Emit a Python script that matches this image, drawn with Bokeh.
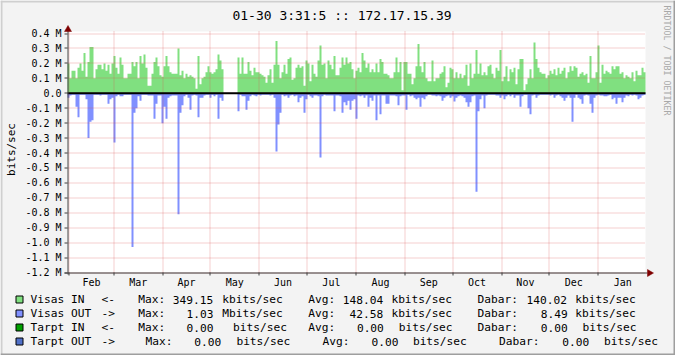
import math
from bokeh.plotting import figure
from bokeh.models import Range1d
from bokeh.core.properties import value
from bokeh.embed import file_html
from bokeh.resources import INLINE

nan = float("nan")

# ---------------- data ----------------
title_text = "01-30 3:31:5 :: 172.17.15.39"
months = ["Feb", "Mar", "Apr", "May", "Jun", "Jul", "Aug", "Sep", "Oct", "Nov", "Dec", "Jan"]
month_len = [28, 31, 30, 31, 30, 31, 31, 30, 31, 30, 31, 31]
y_ticks = [round(-1.2 + 0.1 * i, 1) for i in range(17)]
y_tick_labels = ["0.0" if abs(t) < 1e-9 else "%.1f M" % t for t in y_ticks]

visas_in = [
    0.20, 0.10, 0.15, 0.15, 0.10, 0.17, 0.20, 0.15, 0.27, 0.11,
    0.21, 0.31, 0.31, 0.10, 0.16, 0.19, 0.19, 0.16, 0.20, 0.15,
    0.19, 0.13, 0.20, 0.25, 0.17, 0.13, 0.24, 0.19, 0.10, 0.10,
    0.13, 0.13, 0.21, 0.18, 0.21, 0.10, 0.25, 0.20, 0.26, 0.17,
    0.05, 0.05, 0.13, 0.21, 0.24, 0.18, 0.12, 0.11, 0.18, 0.25,
    0.18, 0.14, 0.13, 0.13, 0.13, 0.30, 0.12, 0.15, 0.10, 0.13,
    0.11, 0.12, 0.11, 0.10, 0.03, 0.25, 0.06, 0.10, 0.11, 0.14,
    0.18, 0.14, 0.13,
    0.14, 0.16, 0.26, 0.22, 0.16, nan, nan, nan, nan, nan,
    nan, nan, 0.24, 0.13, 0.24, 0.13, 0.13, 0.21, 0.15, 0.12,
    0.17, 0.14, 0.14, 0.13, 0.12, 0.11, 0.07, 0.12, 0.16, 0.07,
    0.19, 0.35, 0.19, 0.10, 0.14, 0.19, 0.13, 0.23, 0.24, 0.09,
    0.10, 0.17, 0.19, 0.17, 0.18, 0.05, 0.22, 0.20, 0.08, 0.19,
    0.13, 0.11, 0.22, 0.32, 0.19, 0.20, 0.10, 0.22, 0.19, 0.16,
    0.25, 0.12, 0.12, 0.17, 0.24, 0.19, 0.24, 0.20, 0.21, 0.16,
    0.10, 0.15,
    0.17, 0.14, 0.27, 0.22, 0.17, 0.20, 0.14, 0.16, 0.14, 0.20,
    0.14, 0.23, 0.21, 0.13, 0.13, 0.12, 0.10, 0.10, 0.14, 0.24,
    0.14, 0.21, 0.02, 0.21, 0.21, 0.13, 0.13, 0.06, 0.10, 0.18,
    0.33, 0.18, 0.14, 0.21, 0.10, 0.08, 0.08, 0.22, 0.08, 0.10,
    0.10, 0.13, 0.14, 0.18, 0.04, 0.07, 0.17, 0.16, 0.10, 0.14,
    0.10, 0.13, 0.10, 0.12, 0.19, 0.05, 0.20, 0.10, 0.13, 0.29,
    0.13, 0.20, 0.12, 0.14, 0.12, 0.18, 0.19, 0.13, 0.10, 0.17,
    0.15, 0.29, 0.08,
    0.11, 0.18, 0.08, 0.16, 0.14, 0.17, 0.06, 0.16, 0.23, 0.23,
    0.02, 0.06, 0.10, 0.16, 0.10, 0.34, 0.23, 0.17, 0.14, 0.13,
    0.13, 0.10, 0.12, 0.15, 0.13, 0.16, 0.12, 0.17, 0.13, 0.15,
    0.17, 0.10, 0.14, 0.18, 0.15, 0.18, 0.17, 0.11, 0.13, 0.14,
    0.12, 0.13, 0.07, 0.25, 0.10, 0.10, 0.14, 0.32, 0.07, 0.19,
    0.13, 0.15, 0.14, 0.13, 0.18, 0.16, 0.18, 0.18, 0.13, 0.14,
    0.10, 0.12, 0.11, 0.10, 0.14, 0.08, 0.15, 0.12, 0.12, 0.17,
    0.14,
]

visas_out = [
    -0.03, -0.015, -0.01, -0.01, -0.09, -0.16, -0.01, -0.01, -0.01, -0.04,
    -0.30, -0.19, -0.18, -0.01, -0.01, -0.01, -0.015, -0.01, -0.01, -0.01,
    -0.07, -0.04, -0.03, -0.33, -0.02, -0.01, -0.02, -0.02, -0.01, -0.01,
    -0.01, -0.01, -1.03, -0.13, -0.10, -0.02, -0.05, -0.01, -0.01, -0.01,
    -0.015, -0.015, -0.015, -0.17, -0.07, -0.015, -0.015, -0.20, -0.09, -0.17,
    -0.03, -0.02, -0.015, -0.015, -0.015, -0.81, -0.13, -0.08, -0.02, -0.01,
    -0.03, -0.11, -0.015, -0.01, -0.015, -0.16, -0.03, -0.03, -0.015, -0.01,
    -0.01, -0.03, -0.01,
    -0.02, -0.01, -0.17, -0.03, -0.05, nan, nan, nan, nan, nan,
    nan, nan, -0.12, -0.01, -0.02, -0.02, -0.11, -0.05, -0.02, -0.01,
    -0.015, -0.02, -0.01, -0.015, -0.01, -0.01, -0.01, -0.01, -0.015, -0.01,
    -0.03, -0.39, -0.21, -0.13, -0.01, -0.02, -0.015, -0.03, -0.015, -0.01,
    -0.02, -0.015, -0.06, -0.03, -0.02, -0.13, -0.04, -0.01, -0.02, -0.03,
    -0.015, -0.015, -0.02, -0.43, -0.02, -0.01, -0.015, -0.015, -0.015, -0.015,
    -0.12, -0.015, -0.015, -0.02, -0.13, -0.06, -0.08, -0.05, -0.11, -0.05,
    -0.04, -0.17,
    -0.015, -0.02, -0.015, -0.03, -0.015, -0.09, -0.03, -0.05, -0.015, -0.18,
    -0.015, -0.14, -0.015, -0.015, -0.07, -0.07, -0.015, -0.015, -0.015, -0.02,
    -0.08, -0.02, -0.015, -0.015, -0.11, -0.01, -0.02, -0.015, -0.03, -0.04,
    -0.03, -0.09, -0.03, -0.04, -0.02, -0.01, -0.01, -0.015, -0.015, -0.02,
    -0.015, -0.02, -0.05, -0.03, -0.02, -0.015, -0.03, -0.02, -0.055, -0.03,
    -0.02, -0.015, -0.02, -0.03, -0.06, -0.09, -0.06, -0.02, -0.015, -0.66,
    -0.12, -0.04, -0.015, -0.10, -0.015, -0.01, -0.01, -0.01, -0.01, -0.015,
    -0.015, -0.03, -0.015,
    -0.04, -0.02, -0.01, -0.02, -0.01, -0.03, -0.015, -0.015, -0.09, -0.02,
    -0.01, -0.01, -0.10, -0.14, -0.015, -0.01, -0.03, -0.015, -0.01, -0.01,
    -0.01, -0.01, -0.01, -0.015, -0.01, -0.03, -0.015, -0.01, -0.02, -0.03,
    -0.05, -0.03, -0.015, -0.03, -0.19, -0.03, -0.01, -0.03, -0.04, -0.07,
    -0.015, -0.01, -0.015, -0.07, -0.13, -0.03, -0.015, -0.01, -0.015, -0.015,
    -0.02, -0.02, -0.015, -0.01, -0.04, -0.03, -0.07, -0.03, -0.03, -0.06,
    -0.03, -0.015, -0.02, -0.01, -0.015, -0.01, -0.015, -0.04, -0.03, -0.015,
    -0.01,
]

legend_names = ["Visas IN", "Visas OUT", "Tarpt IN", "Tarpt OUT"]
legend_dirs = ["<-", "->", "<-", "->"]
max_vals = ["349.15", "1.03", "0.00", "0.00"]
max_units = ["kbits/sec", "Mbits/sec", "bits/sec", "bits/sec"]
avg_vals = ["148.04", "42.58", "0.00", "0.00"]
avg_units = ["kbits/sec", "kbits/sec", "bits/sec", "bits/sec"]
cur_vals = ["140.02", "8.49", "0.00", "0.00"]
cur_units = ["kbits/sec", "kbits/sec", "bits/sec", "bits/sec"]

# ---------------- layout / style ----------------
W, H = 675, 355
PL, PR, PT, PB = 67, 645, 31, 272          # plot area in canvas pixels
DAYS = 365.0
PPD = (PR - PL) / DAYS                     # pixels per day
PPM = (PB - 33.0) / 1.6                    # pixels per Mbit/s
MONO = "DejaVu Sans Mono"
C_IN, C_OUT = "#80e080", "#8090ff"
legend_colors = [C_IN, C_OUT, "#00a000", "#5070c8"]
GRID = "#de5050"


def X(px):
    return (px - PL) / PPD


def Y(py):
    return (PB - py) / PPM - 1.2


def to_px_y(v):
    return PB - (v + 1.2) * PPM


def to_px_x(d):
    return PL + d * PPD


p = figure(width=W, height=H, title=None, output_backend="svg", toolbar_location=None,
           x_range=Range1d(X(0), X(W)), y_range=Range1d(Y(H), Y(0)),
           x_axis_location=None, y_axis_location=None,
           min_border=0, min_border_left=0, min_border_right=0,
           min_border_top=0, min_border_bottom=0)
p.grid.visible = False
p.outline_line_color = None
p.background_fill_color = "#f3f3f3"
p.border_fill_color = "#f3f3f3"

# outer shaded border
p.quad(left=[X(0), X(0), X(0), X(W - 2)], right=[X(W), X(2), X(W), X(W)],
       top=[Y(0), Y(0), Y(H - 2), Y(0)], bottom=[Y(2), Y(H), Y(H), Y(H)],
       fill_color=["#cfcfcf", "#cfcfcf", "#9e9e9e", "#9e9e9e"], line_color=None)

# canvas (white plot area)
p.quad(left=[0], right=[DAYS], top=[Y(PT)], bottom=[-1.2], fill_color="#ffffff",
       line_color=None)

# data
n = len(visas_in)
bw = DAYS / n


def draw_steps(vals, color):
    run = []
    for i, v in enumerate(vals + [nan]):
        if v == v:
            run.append(i)
        elif run:
            xe = [k * bw for k in run] + [(run[-1] + 1) * bw]
            ye = [vals[k] for k in run] + [vals[run[-1]]]
            p.varea_step(x=xe, y1=[0] * len(xe), y2=ye, step_mode="after",
                         fill_color=color)
            run = []


draw_steps(visas_in, C_IN)
draw_steps(visas_out, C_OUT)

# month geometry
off = 1.15
month_start = [off + sum(month_len[:i]) for i in range(len(months))]
month_mid = [month_start[i] + month_len[i] / 2.0 for i in range(len(months))]

# grid (snapped to pixel centres)
gy = [Y(math.floor(to_px_y(t)) + 0.5) for t in y_ticks]
p.segment(x0=[0] * len(gy), x1=[DAYS] * len(gy), y0=gy, y1=gy,
          line_color=GRID, line_alpha=0.55, line_width=1, line_dash="1 1")
gx = [X(math.floor(to_px_x(d)) + 0.5) for d in month_start]
p.segment(x0=gx, x1=gx, y0=[-1.2] * len(gx), y1=[Y(PT)] * len(gx),
          line_color=GRID, line_alpha=0.55, line_width=1, line_dash="1 1")

# zero line
p.segment(x0=[0], x1=[DAYS], y0=[0], y1=[0], line_color="#000000", line_width=2)

# axes
AX = "#404040"
p.segment(x0=[X(PL + 0.5)], x1=[X(PL + 0.5)], y0=[Y(PB + 2)], y1=[Y(30)],
          line_color=AX, line_width=1)
p.segment(x0=[X(PL - 3)], x1=[X(647)], y0=[Y(PB + 0.5)], y1=[Y(PB + 0.5)],
          line_color=AX, line_width=1)
# y ticks
p.segment(x0=[X(PL - 3)] * len(gy), x1=[X(PL)] * len(gy), y0=gy, y1=gy,
          line_color=AX, line_width=1)
# x ticks
p.segment(x0=gx, x1=gx, y0=[Y(PB)] * len(gx), y1=[Y(PB + 3)] * len(gx),
          line_color=AX, line_width=1)
# arrow heads
ARW = "#7f0000"
p.patches(xs=[[X(PL + 0.5 - 3.5), X(PL + 0.5 + 3.5), X(PL + 0.5)],
              [X(647), X(647), X(653)]],
          ys=[[Y(31), Y(31), Y(25)],
              [Y(PB + 0.5 - 3.5), Y(PB + 0.5 + 3.5), Y(PB + 0.5)]],
          fill_color=ARW, line_color=ARW, line_width=0.5)

# y tick labels
p.text(x=[X(61)] * len(y_ticks), y=y_ticks, text=y_tick_labels,
       text_font=value(MONO), text_font_size=value("10px"), text_align="right",
       text_baseline="middle", text_color="#000000")

# month labels
p.text(x=month_mid, y=[Y(282)] * len(months), text=months,
       text_font=value(MONO), text_font_size=value("10px"), text_align="center",
       text_baseline="middle", text_color="#000000")

# title
p.text(x=[X(341.5)], y=[Y(14.5)], text=[title_text], text_font=value(MONO),
       text_font_size=value("13px"), text_align="center", text_baseline="middle",
       text_color="#000000")

# unit label
p.text(x=[X(11)], y=[Y(149)], text=["bits/sec"], angle=math.pi / 2,
       text_font=value(MONO), text_font_size=value("11px"), text_align="center",
       text_baseline="middle", text_color="#000000")

# watermark
p.text(x=[X(666)], y=[Y(60)], text=["RRDTOOL / TOBI OETIKER"], angle=-math.pi / 2,
       text_font=value(MONO), text_font_size=value("8.3px"), text_align="center",
       text_baseline="middle", text_color="#a8a8a8")

# legend
row_y = [299, 313, 327, 341]
seg_x = [
    [30, 101, 137.8, 172.2, 221.7, 307.8, 342.2, 390.9, 477, 526, 574.7],
    [30, 101, 137.8, 186, 221.7, 307.8, 349.0, 390.9, 477, 540.2, 574.7],
    [30, 101, 137.8, 186, 232.5, 307.8, 356.4, 398.2, 477, 540.2, 582],
    [30, 101, 145, 193.7, 235.9, 322, 371, 412.4, 498.5, 561.8, 603.5],
]
p.quad(left=[X(15.5)] * 4, right=[X(22.5)] * 4,
       top=[Y(ry - 3.5) for ry in row_y], bottom=[Y(ry + 3.5) for ry in row_y],
       fill_color=legend_colors, line_color="#000000", line_width=1)
lx, ly, lt = [], [], []
for r in range(4):
    segs = [legend_names[r], legend_dirs[r], "Max:", max_vals[r], max_units[r],
            "Avg:", avg_vals[r], avg_units[r], "Dabar:", cur_vals[r], cur_units[r]]
    for xx, t in zip(seg_x[r], segs):
        lx.append(X(xx))
        ly.append(Y(row_y[r]))
        lt.append(t)
p.text(x=lx, y=ly, text=lt, text_font=value(MONO), text_font_size=value("11.2px"),
       text_align="left", text_baseline="middle", text_color="#000000")

open("out.html", "w").write(file_html(p, INLINE))
